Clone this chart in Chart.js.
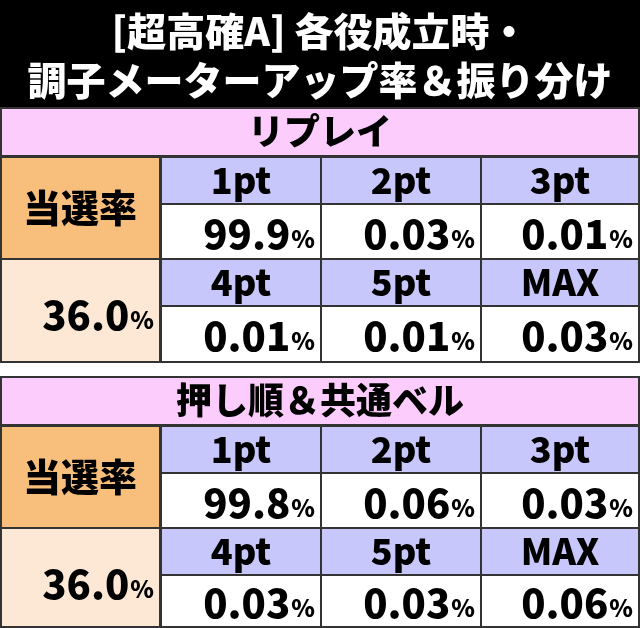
<!DOCTYPE html>
<html><head><meta charset="utf-8">
<script src="https://cdn.jsdelivr.net/npm/chart.js@4"></script>
<style>html,body{margin:0;background:#fff}#wrap{width:640px;height:628px}</style>
</head><body><div id="wrap"><canvas id="c"></canvas></div>
<script>
const titleLines = ["[超高確A] 各役成立時・", "調子メーターアップ率＆振り分け"];
const sections = ["リプレイ", "押し順＆共通ベル"];
const ptLabels = ["1pt", "2pt", "3pt", "4pt", "5pt", "MAX"];
const replayRates = ["99.9", "0.03", "0.01", "0.01", "0.01", "0.03"];
const bellRates = ["99.8", "0.06", "0.03", "0.03", "0.03", "0.06"];
const winLabel = "当選率";
const winRates = ["36.0", "36.0"];

const F = '"Noto Sans CJK JP", sans-serif';

// draws the whole table in chart units (x 0..640, y 0..628) via the scales
const tablePlugin = {
  id: "table",
  afterDraw(chart) {
    const ctx = chart.ctx, xs = chart.scales.x, ys = chart.scales.y;
    const X = v => xs.getPixelForValue(v), Y = v => ys.getPixelForValue(v);
    const rect = (x0, y0, x1, y1, fill) => {
      ctx.fillStyle = fill;
      ctx.fillRect(X(x0), Y(y0), X(x1) - X(x0), Y(y1) - Y(y0));
      ctx.strokeStyle = "#333"; ctx.lineWidth = 2;
      ctx.strokeRect(X(x0), Y(y0), X(x1) - X(x0), Y(y1) - Y(y0));
    };
    const text = (s, x, y, size, color, align) => {
      ctx.font = `900 ${size}px ${F}`; ctx.fillStyle = color;
      ctx.textAlign = align || "center"; ctx.textBaseline = "middle";
      ctx.fillText(s, X(x), Y(y));
    };
    const pct = (v, xr, y) => {
      ctx.font = `900 24px ${F}`;
      const w = ctx.measureText("%").width;
      text("%", xr, y + 5, 24, "#000", "right");
      text(v, xr - w - 1, y, 40, "#000", "right");
    };
    ctx.save();
    ctx.fillStyle = "#000"; ctx.fillRect(X(0), Y(0), X(640) - X(0), Y(108) - Y(0));
    text(titleLines[0], 320, 31, 39, "#fff");
    text(titleLines[1], 320, 80, 39, "#fff");

    const cols = [[161, 321], [321, 481], [481, 639]];
    const tops = [108, 377];
    [replayRates, bellRates].forEach((rates, si) => {
      const t = tops[si];
      rect(1, t, 639, t + 48, "#fccdfc");
      text(sections[si], 320, t + 23, 36, "#000");
      const r0 = t + 49, r1 = r0 + 47, r2 = r1 + 55, r3 = r2 + 47, r4 = r3 + 56;
      rect(1, r0, 160, r2, "#f8be7c");
      text(winLabel, 80, (r0 + r2) / 2, 38, "#000");
      rect(1, r2, 160, Math.min(r4, 627), "#fce8d4");
      pct(winRates[si], 154, (r2 + r4) / 2 + 4);
      cols.forEach(([a, b], ci) => {
        rect(a, r0, b, r1, "#c7c7fc");
        text(ptLabels[ci], (a + b) / 2, (r0 + r1) / 2, 36, "#000");
        rect(a, r1, b, r2, "#fff");
        pct(rates[ci], b - 6, (r1 + r2) / 2 + 2);
        rect(a, r2, b, r3, "#c7c7fc");
        text(ptLabels[ci + 3], (a + b) / 2, (r2 + r3) / 2, 36, "#000");
        rect(a, r3, b, Math.min(r4, 627), "#fff");
        pct(rates[ci + 3], b - 6, (r3 + Math.min(r4, 627)) / 2 + 2);
      });
    });
    ctx.restore();
  }
};

new Chart(document.getElementById("c"), {
  type: "scatter",
  data: { datasets: [{ data: [] }] },
  options: {
    responsive: true, maintainAspectRatio: false, animation: false,
    layout: { padding: 0 },
    plugins: { legend: { display: false }, tooltip: { enabled: false } },
    scales: {
      x: { type: "linear", min: 0, max: 640, display: false },
      y: { type: "linear", min: 0, max: 628, reverse: true, display: false }
    }
  },
  plugins: [tablePlugin]
});
</script></body></html>
